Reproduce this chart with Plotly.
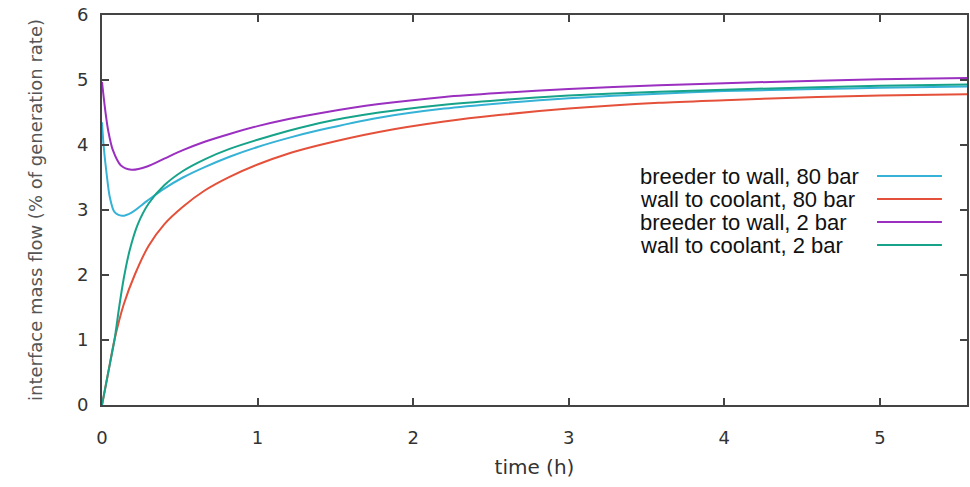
import plotly.graph_objects as go

# ---- data ----
t_bw80 = [0, 0.01, 0.03, 0.05, 0.08, 0.13, 0.19, 0.29, 0.4, 0.52, 0.66, 0.82, 1.0, 1.2, 1.4, 1.78, 2.2, 2.55, 3.0, 3.58, 4.0, 4.6, 5.0, 5.56]
v_bw80 = [4.35, 4.0, 3.55, 3.2, 2.97, 2.91, 2.96, 3.14, 3.33, 3.5, 3.66, 3.82, 3.97, 4.11, 4.23, 4.42, 4.56, 4.64, 4.72, 4.79, 4.83, 4.86, 4.88, 4.90]

t_wc80 = [0, 0.04, 0.08, 0.14, 0.21, 0.3, 0.4, 0.52, 0.66, 0.82, 1.0, 1.2, 1.4, 1.78, 2.2, 2.55, 3.0, 3.58, 4.0, 4.6, 5.0, 5.56]
v_wc80 = [0, 0.5, 1.0, 1.55, 2.0, 2.45, 2.78, 3.05, 3.3, 3.51, 3.70, 3.87, 4.0, 4.2, 4.36, 4.46, 4.56, 4.65, 4.69, 4.74, 4.76, 4.78]

t_bw2 = [0, 0.02, 0.04, 0.07, 0.12, 0.19, 0.29, 0.4, 0.52, 0.66, 0.82, 1.0, 1.2, 1.4, 1.78, 2.2, 2.55, 3.0, 3.58, 4.0, 4.6, 5.0, 5.56]
v_bw2 = [4.97, 4.55, 4.22, 3.92, 3.69, 3.62, 3.67, 3.79, 3.92, 4.05, 4.17, 4.29, 4.40, 4.49, 4.63, 4.74, 4.80, 4.86, 4.92, 4.95, 4.99, 5.01, 5.03]

t_wc2 = [0, 0.04, 0.08, 0.11, 0.14, 0.18, 0.23, 0.3, 0.4, 0.52, 0.66, 0.82, 1.0, 1.2, 1.4, 1.78, 2.2, 2.55, 3.0, 3.58, 4.0, 4.6, 5.0, 5.56]
v_wc2 = [0, 0.5, 1.0, 1.5, 1.95, 2.4, 2.78, 3.1, 3.38, 3.6, 3.78, 3.94, 4.08, 4.22, 4.34, 4.50, 4.62, 4.69, 4.76, 4.82, 4.85, 4.89, 4.91, 4.93]

series_names = ["breeder to wall, 80 bar", "wall to coolant, 80 bar",
                "breeder to wall, 2 bar", "wall to coolant, 2 bar"]
series_colors = ["#35b2d6", "#e4503a", "#9a2fc0", "#17a38a"]
series_t = [t_bw80, t_wc80, t_bw2, t_wc2]
series_v = [v_bw80, v_wc80, v_bw2, v_wc2]

x_ticks = [0, 1, 2, 3, 4, 5]
y_ticks = [0, 1, 2, 3, 4, 5, 6]

fig = go.Figure()
for name, col, t, v in zip(series_names, series_colors, series_t, series_v):
    fig.add_trace(go.Scatter(x=t, y=v, mode="lines", name=name,
                             line=dict(color=col, width=2, shape="spline", smoothing=0.8),
                             showlegend=False))

# gnuplot-style key: text then sample line
row_y = [0.587, 0.528, 0.469, 0.410]
for name, col, yy in zip(series_names, series_colors, row_y):
    fig.add_annotation(x=0.620, y=yy, xref="paper", yref="paper", text=name,
                       showarrow=False, xanchor="left", yanchor="middle",
                       font=dict(family="Liberation Sans, Arial", size=22, color="#111"))
    fig.add_shape(type="line", xref="paper", yref="paper", x0=0.896, x1=0.971, y0=yy, y1=yy,
                  line=dict(color=col, width=2))

axis_common = dict(showline=True, linecolor="#444", linewidth=2, mirror="allticks",
                   ticks="inside", ticklen=7, tickcolor="#444", tickwidth=1.5,
                   showgrid=False, zeroline=False, automargin=False,
                   tickfont=dict(family="DejaVu Sans", size=18, color="#333"))

fig.update_layout(
    width=970, height=487,
    margin=dict(l=102, r=3, t=15, b=82),
    paper_bgcolor="white", plot_bgcolor="white",
    xaxis=dict(range=[0, 5.56], tickvals=x_ticks, ticklabelstandoff=15,
               title=dict(text="time (h)", font=dict(family="DejaVu Sans", size=20, color="#333"), standoff=13),
               **axis_common),
    yaxis=dict(range=[0, 6], tickvals=y_ticks, ticklabelstandoff=8,
               title=dict(text="interface mass flow (% of generation rate)",
                          font=dict(family="DejaVu Sans", size=18, color="#555"), standoff=30),
               **axis_common),
)

# remove the default 8px page margin so the figure sits at the window origin
fig.write_html("out.html", config={"displayModeBar": False},
               post_script="document.body.style.margin='0px';")
